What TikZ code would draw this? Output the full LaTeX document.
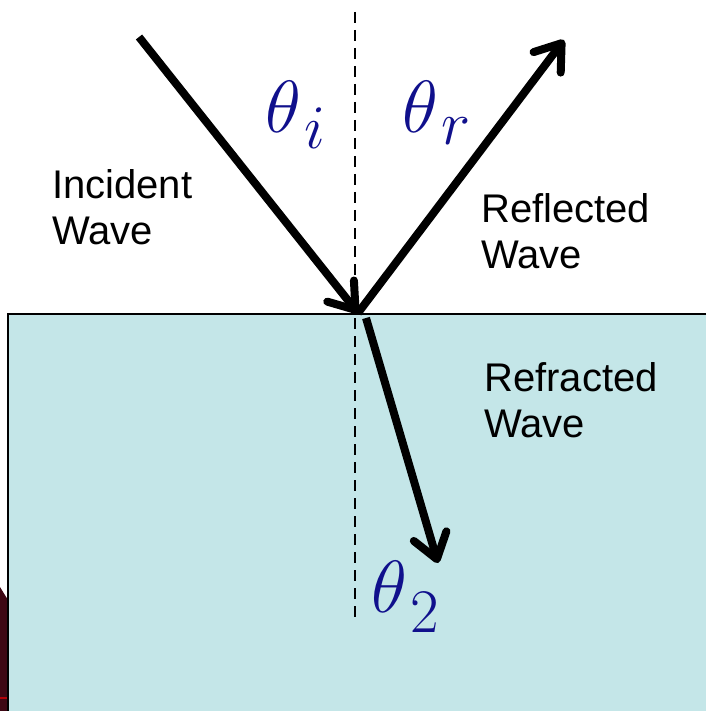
\RequirePackage{fix-cm}
\documentclass[tikz,border=0pt]{standalone}
\usepackage{amsmath}
\usepackage{fontspec}
\setsansfont{Liberation Sans}
\usepackage{tikz}
\usetikzlibrary{arrows.meta}
% subscript of an angle, optionally dropped lower
\newcommand{\angsub}[2][0pt]{_{\mbox{\kern6pt\raisebox{-#1}{\fontsize{62}{62}\selectfont$#2$}}}}
\definecolor{water}{RGB}{196,230,232}
\definecolor{anglecol}{RGB}{16,16,140}
\definecolor{maroon}{RGB}{62,8,20}
\tikzset{
  ray/.style={line width=8pt, -{Straight Barb[round, length=24pt, width=34pt]}},
  wavelabel/.style={anchor=north west, inner sep=0pt, align=left,
    font=\sffamily\fontsize{40}{46}\selectfont},
  anglelabel/.style={anchor=base west, inner sep=0pt, text=anglecol,
    font=\fontsize{74}{80}\selectfont}
}

\begin{document}
\begin{tikzpicture}[x=1pt, y=-1pt]
\useasboundingbox (0,0) rectangle (706,711);
% strip of a photo at the lower left
\fill[maroon] (0,587) -- (8,600) -- (8,711) -- (0,711) -- cycle;
\draw[red!60!maroon, line width=2pt] (0,698) -- (8,698);
% second medium
\fill[water] (8,314) rectangle (706,711);
\draw[line width=2.5pt] (706,314) -- (8,314) -- (8,711);
% normal
\draw[dashed, line width=2.2pt, dash pattern=on 11pt off 7pt] (355,12) -- (355,620);
% ray end points
\coordinate (src) at (139,37);
\coordinate (hit) at (358,313);
\coordinate (refl) at (564,40);
\coordinate (below) at (366,318);
\coordinate (refr) at (438,563);
\draw[ray] (src) -- (hit);
\draw[ray] (hit) -- (refl);
\draw[ray] (below) -- (refr);
% labels
\node[wavelabel] (inc) at (52,169) {Incident\\Wave};
\node[wavelabel] (rfl) at (481,193) {Reflected\\Wave};
\node[wavelabel] (rfr) at (484,362) {Refracted\\Wave};
\node[anglelabel] (thi) at (265,133) {$\theta\angsub{i}$};
\node[anglelabel] (thr) at (402,133) {$\theta\angsub{r}$};
\node[anglelabel] (th2) at (371,612) {$\theta\angsub[9pt]{2}$};
\end{tikzpicture}
\end{document}
